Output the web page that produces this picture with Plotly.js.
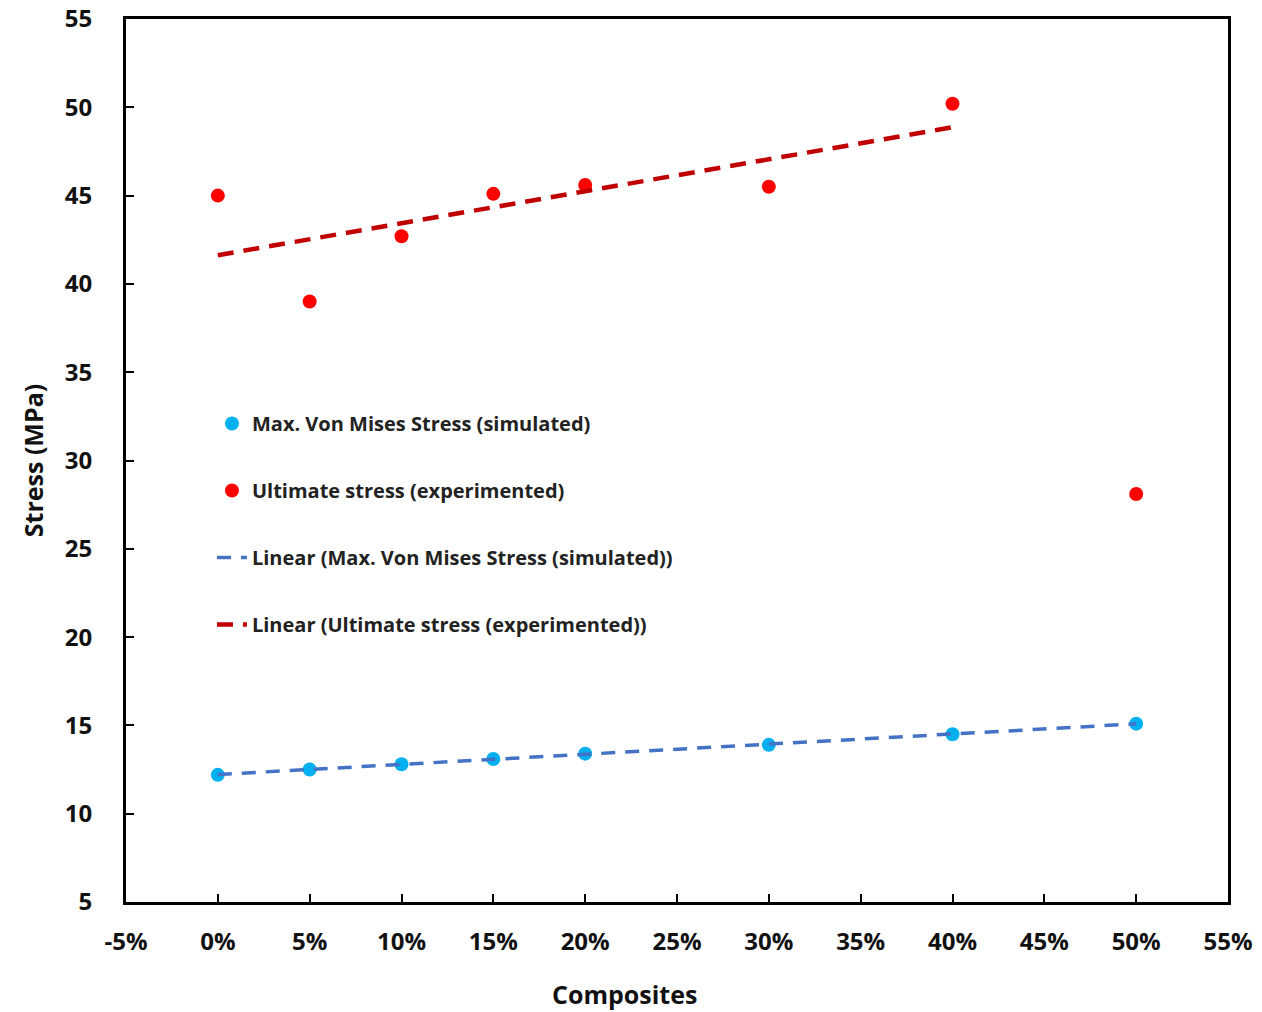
<!DOCTYPE html>
<html>
<head>
<meta charset="utf-8">
<script src="https://cdn.plot.ly/plotly-3.0.1.min.js"></script>
<style>html,body{margin:0;padding:0;background:#fff;}#chart{width:1262px;height:1012px;}</style>
</head>
<body>
<div id="chart"></div>
<script>
// Composite fraction (%)
var composites = [0, 5, 10, 15, 20, 30, 40, 50];
var simulatedStress = [12.2, 12.5, 12.8, 13.1, 13.4, 13.9, 14.5, 15.1];
var experimentedStress = [45.0, 39.0, 42.7, 45.1, 45.6, 45.5, 50.2, 28.1];
// x-range over which each trendline was fitted (as in the original)
var simFitMax = 50;
var expFitMax = 40;
var xTickVals = [-5, 0, 5, 10, 15, 20, 25, 30, 35, 40, 45, 50, 55];
var xTickText = ["-5%", "0%", "5%", "10%", "15%", "20%", "25%", "30%", "35%", "40%", "45%", "50%", "55%"];

function linFit(xs, ys, xmax) {
  var px = [], py = [];
  for (var i = 0; i < xs.length; i++) { if (xs[i] <= xmax) { px.push(xs[i]); py.push(ys[i]); } }
  var n = px.length, mx = 0, my = 0;
  for (var i = 0; i < n; i++) { mx += px[i]; my += py[i]; }
  mx /= n; my /= n;
  var sxy = 0, sxx = 0;
  for (var i = 0; i < n; i++) { sxy += (px[i] - mx) * (py[i] - my); sxx += (px[i] - mx) * (px[i] - mx); }
  var b = sxy / sxx, a = my - b * mx;
  var x0 = Math.min.apply(null, px), x1 = Math.max.apply(null, px);
  return {x: [x0, x1], y: [a + b * x0, a + b * x1]};
}
var simFit = linFit(composites, simulatedStress, simFitMax);
var expFit = linFit(composites, experimentedStress, expFitMax);

var FONT = "'Open Sans', sans-serif";
var traces = [
  {x: composites, y: simulatedStress, mode: 'markers', type: 'scatter',
   name: 'Max. Von Mises Stress (simulated)', legendgroup: 'a',
   marker: {color: '#00B0F0', size: 14}},
  {x: composites, y: experimentedStress, mode: 'markers', type: 'scatter',
   name: 'Ultimate stress (experimented)', legendgroup: 'b',
   marker: {color: '#FF0000', size: 14}},
  {x: simFit.x, y: simFit.y, mode: 'lines', type: 'scatter',
   name: 'Linear (Max. Von Mises Stress (simulated))', legendgroup: 'c',
   line: {color: '#4472C4', width: 3.5, dash: '14px,10px'}},
  {x: expFit.x, y: expFit.y, mode: 'lines', type: 'scatter',
   name: 'Linear (Ultimate stress (experimented))', legendgroup: 'd',
   line: {color: '#C00000', width: 4.5, dash: '16px,10px'}}
];

var layout = {
  width: 1262, height: 1012,
  margin: {l: 126, r: 34, t: 19, b: 110},
  paper_bgcolor: '#fff', plot_bgcolor: '#fff',
  showlegend: true,
  legend: {x: 0.078, y: 0.564, xanchor: 'left', yanchor: 'top',
           bgcolor: 'rgba(0,0,0,0)', traceorder: 'grouped', tracegroupgap: 38,
           font: {family: FONT, size: 20, color: '#222', weight: 'bold'}},
  xaxis: {range: [-5, 55], tickvals: xTickVals, ticktext: xTickText,
          showgrid: false, zeroline: false, showline: true, mirror: true,
          linecolor: '#000', linewidth: 3, ticks: 'inside', ticklen: 8, tickwidth: 2, tickcolor: '#000',
          ticklabelstandoff: 16, ticklabeloverflow: 'allow',
          tickfont: {family: FONT, size: 24, color: '#111', weight: 'bold'}},
  yaxis: {range: [5, 55], dtick: 5, tick0: 5,
          showgrid: false, zeroline: false, showline: true, mirror: true,
          linecolor: '#000', linewidth: 3, ticks: 'inside', ticklen: 8, tickwidth: 2, tickcolor: '#000',
          ticklabelstandoff: 26, ticklabeloverflow: 'allow',
          tickfont: {family: FONT, size: 24, color: '#111', weight: 'bold'},
          title: {text: 'Stress (MPa)', standoff: 14, font: {family: FONT, size: 25, color: '#111', weight: 'bold'}}},
  annotations: [{text: 'Composites', xref: 'paper', yref: 'paper', x: 0.452, y: -0.104,
                 xanchor: 'center', yanchor: 'middle', showarrow: false,
                 font: {family: FONT, size: 25, color: '#111', weight: 'bold'}}]
};
Plotly.newPlot('chart', traces, layout, {displayModeBar: false, staticPlot: true});
</script>
</body>
</html>
